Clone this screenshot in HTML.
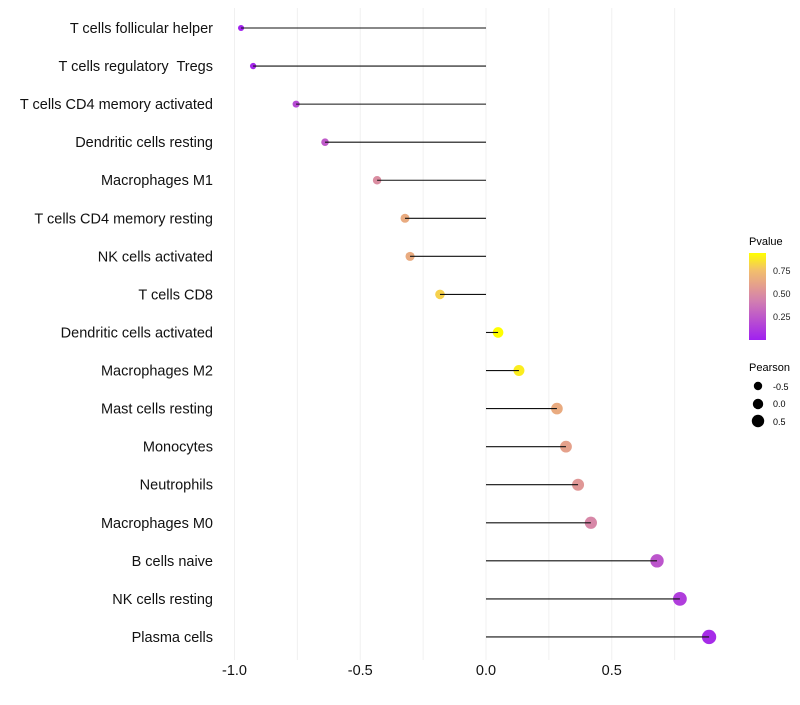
<!DOCTYPE html>
<html><head><meta charset="utf-8"><style>
body{margin:0;background:#fff;font-family:"Liberation Sans",sans-serif}
text{white-space:pre}
</style></head><body>
<svg id="chart" width="800" height="700" xmlns="http://www.w3.org/2000/svg">
<defs><linearGradient id="pg" x1="0" y1="1" x2="0" y2="0">
<stop offset="0" stop-color="#a020f0"/><stop offset="0.45" stop-color="#d27fb0"/><stop offset="0.6" stop-color="#e29a92"/><stop offset="0.8" stop-color="#f2bf6c"/><stop offset="1" stop-color="#ffff00"/></linearGradient></defs>
<g id="grid"></g><g id="marks"></g><g id="labels"></g>
<g font-size="10">
<text x="749" y="245" font-size="11" fill="#000">Pvalue</text>
<rect x="749" y="253" width="17" height="87" fill="url(#pg)"/>
<text x="773" y="274" fill="#222" font-size="9">0.75</text>
<text x="773" y="297" fill="#222" font-size="9">0.50</text>
<text x="773" y="320" fill="#222" font-size="9">0.25</text>
<text x="749" y="371" font-size="11" fill="#000">Pearson</text>
<circle cx="758" cy="386" r="4.2" fill="#000"/><text x="773" y="390" font-size="9">-0.5</text>
<circle cx="758" cy="404" r="5.2" fill="#000"/><text x="773" y="407" font-size="9">0.0</text>
<circle cx="758" cy="421" r="6.2" fill="#000"/><text x="773" y="425" font-size="9">0.5</text>
</g>
</svg>
<script>
const categories=["T cells follicular helper","T cells regulatory  Tregs","T cells CD4 memory activated","Dendritic cells resting","Macrophages M1","T cells CD4 memory resting","NK cells activated","T cells CD8","Dendritic cells activated","Macrophages M2","Mast cells resting","Monocytes","Neutrophils","Macrophages M0","B cells naive","NK cells resting","Plasma cells"];
const pearson=[-0.974,-0.926,-0.755,-0.64,-0.433,-0.322,-0.302,-0.183,0.048,0.131,0.282,0.318,0.366,0.417,0.68,0.771,0.887];
const pvalue=[0.08,0.1,0.25,0.32,0.55,0.7,0.7,0.85,0.98,0.93,0.7,0.65,0.6,0.52,0.3,0.2,0.12];
const xTicks=[-1.0,-0.5,0.0,0.5];
const xTickLabels=["-1.0","-0.5","0.0","0.5"];
const NS="http://www.w3.org/2000/svg";
const x=v=>486+v*251.5;
const y=i=>28+i*38.06;
const rad=v=>Math.max(1.5,5.2+2.2*v);
function lerp(a,b,t){return Math.round(a+(b-a)*t);}
const stops=[[0,[160,32,240]],[0.45,[210,127,176]],[0.6,[226,154,146]],[0.8,[242,191,108]],[1,[255,255,0]]];
function col(p){const t=Math.min(1,Math.max(0,(p-0.07)/0.91));for(let i=1;i<stops.length;i++){if(t<=stops[i][0]){const a=stops[i-1],b=stops[i],u=(t-a[0])/(b[0]-a[0]);return `rgb(${lerp(a[1][0],b[1][0],u)},${lerp(a[1][1],b[1][1],u)},${lerp(a[1][2],b[1][2],u)})`;}}return "rgb(255,255,0)";}
function mk(t,a,p){const e=document.createElementNS(NS,t);for(const k in a)e.setAttribute(k,a[k]);p.appendChild(e);return e;}
const grid=document.getElementById('grid'),marks=document.getElementById('marks'),labels=document.getElementById('labels');
for(let g=-1;g<=0.76;g+=0.25){const l=mk('line',{x1:x(g),x2:x(g),y1:8,y2:660,stroke:'#f0f0f0','stroke-width':1},grid);

}
xTicks.forEach((t,i)=>{const tx=mk('text',{x:x(t),y:675,'text-anchor':'middle','font-size':14.5,fill:'#111'},labels);tx.textContent=xTickLabels[i];

});
categories.forEach((c,i)=>{
const t=mk('text',{x:213,y:y(i)+5,'text-anchor':'end','font-size':14.5,fill:'#111'},labels);t.textContent=c;


const d=mk('circle',{cx:x(pearson[i]),cy:y(i),r:rad(pearson[i]),fill:col(pvalue[i])},marks);


const l=mk('line',{x1:x(0),x2:x(pearson[i]),y1:y(i),y2:y(i),stroke:'#111','stroke-width':1.1},marks);


});
</script>
</body></html>
